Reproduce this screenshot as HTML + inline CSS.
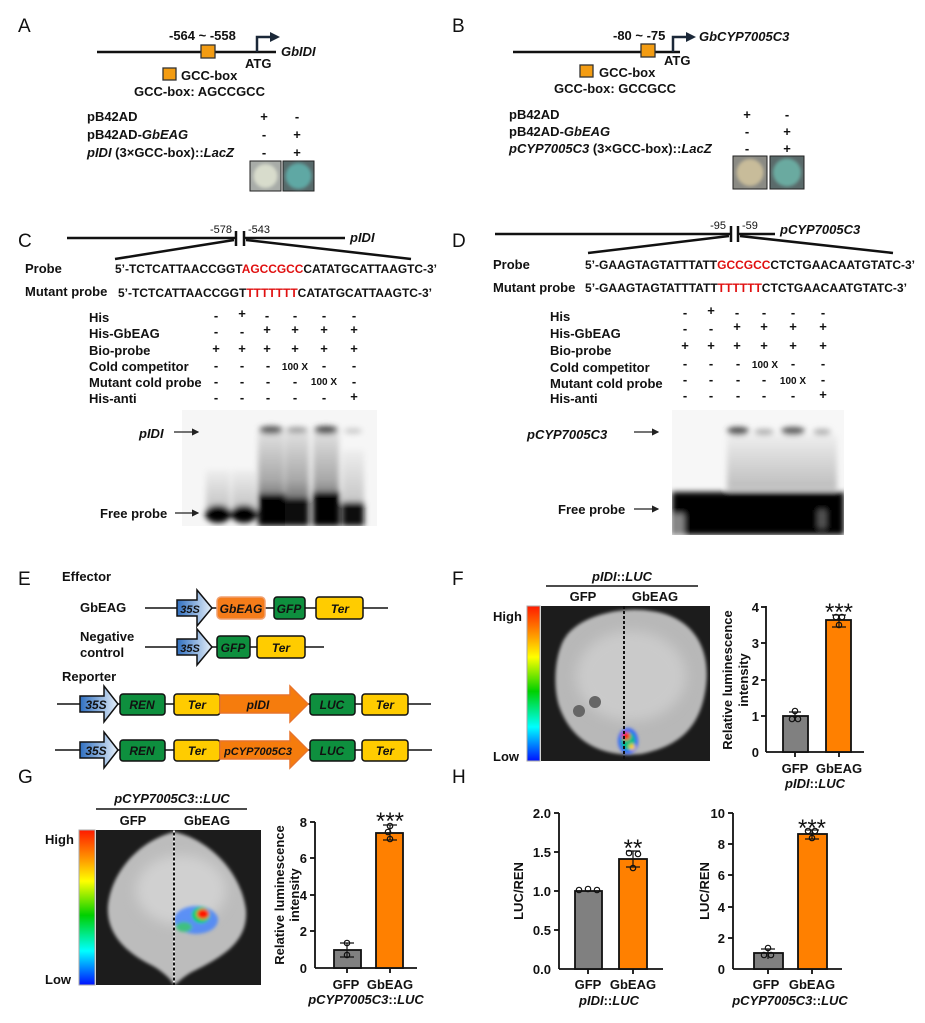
<!DOCTYPE html>
<html><head><meta charset="utf-8"><style>
html,body{margin:0;padding:0;background:#fff}
svg{display:block}
text{font-family:"Liberation Sans",Arial,sans-serif;fill:#111}
.b{font-weight:bold}
.i{font-style:italic}
.L{font-size:19px}
.t{font-size:13px;font-weight:bold}
.s{font-size:12px;font-weight:bold}
.st{font-size:24px}
</style></head><body>
<svg width="925" height="1023" viewBox="0 0 925 1023" xmlns="http://www.w3.org/2000/svg">
<defs>
<linearGradient id="blue" x1="0" x2="1"><stop offset="0" stop-color="#2f6fc0"/><stop offset="1" stop-color="#e6f0fa"/></linearGradient>
<linearGradient id="cbar" x1="0" y1="0" x2="0" y2="1">
<stop offset="0" stop-color="#ff1a00"/><stop offset="0.2" stop-color="#ffa000"/><stop offset="0.33" stop-color="#ffff00"/><stop offset="0.55" stop-color="#00d000"/><stop offset="0.78" stop-color="#00ffff"/><stop offset="1" stop-color="#0010ff"/></linearGradient>
<linearGradient id="smear" x1="0" y1="0" x2="0" y2="1"><stop offset="0" stop-color="#e0e0e0"/><stop offset="0.6" stop-color="#a8a8a8"/><stop offset="1" stop-color="#505050"/></linearGradient>
<linearGradient id="smear2" x1="0" y1="0" x2="0" y2="1"><stop offset="0" stop-color="#eeeeee"/><stop offset="1" stop-color="#bcbcbc"/></linearGradient>
<filter id="bl" x="-50%" y="-50%" width="200%" height="200%"><feGaussianBlur stdDeviation="3"/></filter>
<filter id="bl2" x="-50%" y="-50%" width="200%" height="200%"><feGaussianBlur stdDeviation="1.5"/></filter>
<filter id="bl6" x="-50%" y="-50%" width="200%" height="200%"><feGaussianBlur stdDeviation="6"/></filter>
<marker id="ah" markerWidth="6" markerHeight="6" refX="5" refY="3" orient="auto"><path d="M0,0 L6,3 L0,6 z" fill="#222"/></marker>
</defs>

<!-- ===== A ===== -->
<text x="18" y="32" class="L">A</text>
<line x1="97" y1="52" x2="276" y2="52" stroke="#111" stroke-width="2.5"/>
<rect x="201" y="45" width="14" height="13" fill="#f39c12" stroke="#333" stroke-width="1.3"/>
<path d="M257,52 V37 H272" fill="none" stroke="#1b2838" stroke-width="2.5"/>
<path d="M270,32 L280,37 L270,42 z" fill="#1b2838"/>
<text x="169" y="40" class="t">-564 ~ -558</text>
<text x="281" y="56" class="t i">GbIDI</text>
<text x="245" y="68" class="t">ATG</text>
<rect x="163" y="68" width="13" height="12" fill="#f39c12" stroke="#333" stroke-width="1.3"/>
<text x="181" y="80" class="t">GCC-box</text>
<text x="134" y="96" class="t">GCC-box:  AGCCGCC</text>
<text x="87" y="121" class="t">pB42AD</text>
<text x="87" y="139" class="t">pB42AD-<tspan class="i">GbEAG</tspan></text>
<text x="87" y="157" class="t"><tspan class="i">pIDI</tspan> (3×GCC-box)::<tspan class="i">LacZ</tspan></text>
<g class="t" text-anchor="middle"><text x="264" y="121">+</text><text x="297" y="121">-</text><text x="264" y="139">-</text><text x="297" y="139">+</text><text x="264" y="157">-</text><text x="297" y="157">+</text></g>
<rect x="250" y="161" width="31" height="30" fill="#a8aca8" stroke="#222"/>
<circle cx="265.5" cy="176" r="12" fill="#d8dccc" filter="url(#bl2)"/>
<rect x="283" y="161" width="31" height="30" fill="#57696a" stroke="#222"/>
<circle cx="298.5" cy="176" r="13" fill="#5fa8a4" filter="url(#bl2)"/>

<!-- ===== B ===== -->
<text x="452" y="32" class="L">B</text>
<line x1="513" y1="52" x2="680" y2="52" stroke="#111" stroke-width="2.5"/>
<rect x="641" y="44" width="14" height="13" fill="#f39c12" stroke="#333" stroke-width="1.3"/>
<path d="M673,52 V37 H688" fill="none" stroke="#1b2838" stroke-width="2.5"/>
<path d="M686,32 L696,37 L686,42 z" fill="#1b2838"/>
<text x="613" y="40" class="t">-80 ~ -75</text>
<text x="699" y="41" class="t i">GbCYP7005C3</text>
<text x="664" y="65" class="t">ATG</text>
<rect x="580" y="65" width="13" height="12" fill="#f39c12" stroke="#333" stroke-width="1.3"/>
<text x="599" y="77" class="t">GCC-box</text>
<text x="554" y="93" class="t">GCC-box: GCCGCC</text>
<text x="509" y="119" class="t">pB42AD</text>
<text x="509" y="136" class="t">pB42AD-<tspan class="i">GbEAG</tspan></text>
<text x="509" y="153" class="t"><tspan class="i">pCYP7005C3</tspan> (3×GCC-box)::<tspan class="i">LacZ</tspan></text>
<g class="t" text-anchor="middle"><text x="747" y="119">+</text><text x="787" y="119">-</text><text x="747" y="136">-</text><text x="787" y="136">+</text><text x="747" y="153">-</text><text x="787" y="153">+</text></g>
<rect x="733" y="156" width="34" height="33" fill="#8a8a84" stroke="#222"/>
<circle cx="750" cy="172.5" r="13.5" fill="#c8bc9a" filter="url(#bl2)"/>
<rect x="770" y="156" width="34" height="33" fill="#5a6a6a" stroke="#222"/>
<circle cx="787" cy="172.5" r="14" fill="#6aaaa0" filter="url(#bl2)"/>

<!-- ===== C ===== -->
<text x="18" y="247" class="L">C</text>
<line x1="67" y1="238" x2="235" y2="238" stroke="#111" stroke-width="2.5"/>
<line x1="245" y1="238" x2="345" y2="238" stroke="#111" stroke-width="2.5"/>
<line x1="236" y1="231" x2="236" y2="246" stroke="#111" stroke-width="2.5"/>
<line x1="244" y1="231" x2="244" y2="246" stroke="#111" stroke-width="2.5"/>
<line x1="234" y1="240" x2="115" y2="259" stroke="#111" stroke-width="2.5"/>
<line x1="246" y1="240" x2="411" y2="259" stroke="#111" stroke-width="2.5"/>
<text x="232" y="233" font-size="11" text-anchor="end">-578</text>
<text x="248" y="233" font-size="11">-543</text>
<text x="350" y="242" class="t i">pIDI</text>
<text x="25" y="273" class="t">Probe</text>
<text x="115" y="273" class="s" textLength="322" lengthAdjust="spacingAndGlyphs">5’-TCTCATTAACCGGT<tspan fill="#e01010">AGCCGCC</tspan>CATATGCATTAAGTC-3’</text>
<text x="25" y="296" class="t">Mutant probe</text>
<text x="118" y="297" class="s" textLength="314" lengthAdjust="spacingAndGlyphs">5’-TCTCATTAACCGGT<tspan fill="#e01010">TTTTTTT</tspan>CATATGCATTAAGTC-3’</text>
<g class="t">
<text x="89" y="322">His</text><text x="89" y="338">His-GbEAG</text><text x="89" y="355">Bio-probe</text>
<text x="89" y="371">Cold competitor</text><text x="89" y="387">Mutant cold probe</text><text x="89" y="403">His-anti</text>
</g>
<g class="t" text-anchor="middle">
<text x="216" y="320">-</text><text x="242" y="318">+</text><text x="267" y="320">-</text><text x="295" y="320">-</text><text x="324" y="320">-</text><text x="354" y="320">-</text>
<text x="216" y="336">-</text><text x="242" y="336">-</text><text x="267" y="334">+</text><text x="295" y="334">+</text><text x="324" y="334">+</text><text x="354" y="334">+</text>
<text x="216" y="353">+</text><text x="242" y="353">+</text><text x="267" y="353">+</text><text x="295" y="353">+</text><text x="324" y="353">+</text><text x="354" y="353">+</text>
<text x="216" y="370">-</text><text x="242" y="370">-</text><text x="268" y="370">-</text><text x="295" y="370" font-size="10">100 X</text><text x="324" y="370">-</text><text x="354" y="370">-</text>
<text x="216" y="386">-</text><text x="242" y="386">-</text><text x="268" y="386">-</text><text x="295" y="386">-</text><text x="324" y="385" font-size="10">100 X</text><text x="354" y="386">-</text>
<text x="216" y="402">-</text><text x="242" y="402">-</text><text x="268" y="402">-</text><text x="295" y="402">-</text><text x="324" y="402">-</text><text x="354" y="401">+</text>
</g>
<svg x="182" y="410" width="195" height="116" overflow="hidden">
<rect width="195" height="116" fill="#f6f6f6"/>
<g filter="url(#bl)">
<rect x="24" y="60" width="24" height="45" fill="url(#smear2)"/><rect x="50" y="60" width="24" height="45" fill="url(#smear2)"/>
<rect x="76" y="22" width="26" height="80" fill="url(#smear)"/><rect x="103" y="22" width="24" height="80" fill="url(#smear)"/>
<rect x="131" y="22" width="26" height="80" fill="url(#smear)"/><rect x="160" y="40" width="22" height="65" fill="url(#smear2)"/>
<ellipse cx="89" cy="20" rx="12" ry="4" fill="#555"/><ellipse cx="115" cy="20" rx="11" ry="3" fill="#999"/>
<ellipse cx="144" cy="20" rx="12" ry="4" fill="#444"/><ellipse cx="171" cy="21" rx="9" ry="2.5" fill="#c4c4c4"/>
<ellipse cx="36" cy="104" rx="13" ry="9" fill="#000"/><ellipse cx="62" cy="104" rx="13" ry="9" fill="#000"/>
<rect x="76" y="84" width="27" height="32" fill="#000"/><rect x="103" y="88" width="24" height="28" fill="#0a0a0a"/>
<rect x="131" y="82" width="27" height="34" fill="#000"/><rect x="160" y="92" width="22" height="24" fill="#111"/>
</g>
</svg>
<text x="139" y="438" class="t i">pIDI</text>
<line x1="174" y1="432" x2="198" y2="432" stroke="#222" stroke-width="1.2" marker-end="url(#ah)"/>
<text x="100" y="518" class="t">Free probe</text>
<line x1="175" y1="513" x2="198" y2="513" stroke="#222" stroke-width="1.2" marker-end="url(#ah)"/>

<!-- ===== D ===== -->
<text x="452" y="247" class="L">D</text>
<line x1="495" y1="234" x2="730" y2="234" stroke="#111" stroke-width="2.5"/>
<line x1="738" y1="234" x2="775" y2="234" stroke="#111" stroke-width="2.5"/>
<line x1="731" y1="226" x2="731" y2="242" stroke="#111" stroke-width="2.5"/>
<line x1="738" y1="226" x2="738" y2="242" stroke="#111" stroke-width="2.5"/>
<line x1="729" y1="236" x2="588" y2="253" stroke="#111" stroke-width="2.5"/>
<line x1="740" y1="236" x2="893" y2="253" stroke="#111" stroke-width="2.5"/>
<text x="726" y="229" font-size="11" text-anchor="end">-95</text>
<text x="742" y="229" font-size="11">-59</text>
<text x="780" y="234" class="t i">pCYP7005C3</text>
<text x="493" y="269" class="t">Probe</text>
<text x="585" y="269" class="s" textLength="330" lengthAdjust="spacingAndGlyphs">5’-GAAGTAGTATTTATT<tspan fill="#e01010">GCCGCC</tspan>CTCTGAACAATGTATC-3’</text>
<text x="493" y="292" class="t">Mutant probe</text>
<text x="585" y="292" class="s" textLength="322" lengthAdjust="spacingAndGlyphs">5’-GAAGTAGTATTTATT<tspan fill="#e01010">TTTTTT</tspan>CTCTGAACAATGTATC-3’</text>
<g class="t">
<text x="550" y="321">His</text><text x="550" y="338">His-GbEAG</text><text x="550" y="355">Bio-probe</text>
<text x="550" y="372">Cold competitor</text><text x="550" y="388">Mutant cold probe</text><text x="550" y="403">His-anti</text>
</g>
<g class="t" text-anchor="middle">
<text x="685" y="317">-</text><text x="711" y="315">+</text><text x="737" y="317">-</text><text x="764" y="317">-</text><text x="793" y="317">-</text><text x="823" y="317">-</text>
<text x="685" y="333">-</text><text x="711" y="333">-</text><text x="737" y="331">+</text><text x="764" y="331">+</text><text x="793" y="331">+</text><text x="823" y="331">+</text>
<text x="685" y="350">+</text><text x="711" y="350">+</text><text x="737" y="350">+</text><text x="764" y="350">+</text><text x="793" y="350">+</text><text x="823" y="350">+</text>
<text x="685" y="368">-</text><text x="711" y="368">-</text><text x="738" y="368">-</text><text x="765" y="368" font-size="10">100 X</text><text x="793" y="368">-</text><text x="823" y="368">-</text>
<text x="685" y="384">-</text><text x="711" y="384">-</text><text x="738" y="384">-</text><text x="764" y="384">-</text><text x="793" y="384" font-size="10">100 X</text><text x="823" y="384">-</text>
<text x="685" y="400">-</text><text x="711" y="400">-</text><text x="738" y="400">-</text><text x="764" y="400">-</text><text x="793" y="400">-</text><text x="823" y="399">+</text>
</g>
<svg x="672" y="410" width="172" height="125" overflow="hidden">
<rect width="172" height="125" fill="#f7f7f7"/>
<g filter="url(#bl)">
<rect x="55" y="25" width="110" height="55" fill="url(#smear2)"/>
<ellipse cx="66" cy="21" rx="11" ry="4" fill="#444"/><ellipse cx="92" cy="22" rx="10" ry="3" fill="#aaa"/>
<ellipse cx="121" cy="21" rx="12" ry="4" fill="#555"/><ellipse cx="150" cy="22" rx="9" ry="3" fill="#aaa"/>
<rect x="0" y="82" width="172" height="43" fill="#000"/>
<rect x="2" y="104" width="10" height="21" fill="#888"/>
<rect x="146" y="100" width="8" height="18" fill="#555"/>
</g>
</svg>
<text x="527" y="439" class="t i">pCYP7005C3</text>
<line x1="634" y1="432" x2="658" y2="432" stroke="#222" stroke-width="1.2" marker-end="url(#ah)"/>
<text x="558" y="514" class="t">Free probe</text>
<line x1="634" y1="509" x2="658" y2="509" stroke="#222" stroke-width="1.2" marker-end="url(#ah)"/>

<!-- ===== E ===== -->
<text x="18" y="585" class="L">E</text>
<text x="62" y="581" class="t">Effector</text>
<text x="80" y="612" class="t">GbEAG</text>
<text x="80" y="641" class="t">Negative</text>
<text x="80" y="657" class="t">control</text>
<text x="62" y="681" class="t">Reporter</text>
<g stroke="#111" stroke-width="1.5">
<line x1="145" y1="608" x2="388" y2="608"/>
<line x1="145" y1="647" x2="324" y2="647"/>
<line x1="57" y1="704" x2="431" y2="704"/>
<line x1="55" y1="750" x2="432" y2="750"/>
</g>
<g stroke="#111" stroke-width="1.5">
<path d="M177,600 H197 V590 L212,608 L197,626 V616 H177 Z" fill="url(#blue)"/>
<path d="M177,639 H197 V629 L212,647 L197,665 V655 H177 Z" fill="url(#blue)"/>
<path d="M80,696 H104 V686 L118,704 L104,722 V712 H80 Z" fill="url(#blue)"/>
<path d="M80,742 H104 V732 L118,750 L104,768 V758 H80 Z" fill="url(#blue)"/>
<rect x="217" y="597" width="48" height="22" rx="4" fill="#f57c1a" stroke="#f0a070"/>
<rect x="274" y="597" width="31" height="22" rx="3" fill="#0e8f3e"/>
<rect x="316" y="597" width="47" height="22" rx="3" fill="#ffcc00"/>
<rect x="217" y="636" width="33" height="22" rx="3" fill="#0e8f3e"/>
<rect x="257" y="636" width="48" height="22" rx="3" fill="#ffcc00"/>
<rect x="120" y="694" width="45" height="21" rx="3" fill="#0e8f3e"/>
<rect x="174" y="694" width="46" height="21" rx="3" fill="#ffcc00"/>
<path d="M220,695 H290 V686 L308,704 L290,722 V713 H220 Z" fill="#f57c0d" stroke="#e8742a"/>
<rect x="310" y="694" width="45" height="21" rx="3" fill="#0e8f3e"/>
<rect x="362" y="694" width="46" height="21" rx="3" fill="#ffcc00"/>
<rect x="120" y="740" width="45" height="21" rx="3" fill="#0e8f3e"/>
<rect x="174" y="740" width="46" height="21" rx="3" fill="#ffcc00"/>
<path d="M220,741 H290 V732 L308,750 L290,768 V759 H220 Z" fill="#f57c0d" stroke="#e8742a"/>
<rect x="310" y="740" width="45" height="21" rx="3" fill="#0e8f3e"/>
<rect x="362" y="740" width="46" height="21" rx="3" fill="#ffcc00"/>
</g>
<g class="i b" font-size="12" text-anchor="middle">
<text x="190" y="613" font-size="11">35S</text><text x="241" y="613">GbEAG</text><text x="289" y="613">GFP</text><text x="340" y="613">Ter</text>
<text x="190" y="652" font-size="11">35S</text><text x="233" y="652">GFP</text><text x="281" y="652">Ter</text>
<text x="96" y="709">35S</text><text x="142" y="709">REN</text><text x="197" y="709">Ter</text><text x="258" y="709">pIDI</text><text x="332" y="709">LUC</text><text x="385" y="709">Ter</text>
<text x="96" y="755">35S</text><text x="142" y="755">REN</text><text x="197" y="755">Ter</text><text x="258" y="755" font-size="11">pCYP7005C3</text><text x="332" y="755">LUC</text><text x="385" y="755">Ter</text>
</g>

<!-- ===== F ===== -->
<text x="452" y="585" class="L">F</text>
<text x="622" y="581" class="t i" text-anchor="middle">pIDI<tspan font-style="normal">::</tspan>LUC</text>
<line x1="546" y1="586" x2="698" y2="586" stroke="#111" stroke-width="1.5"/>
<text x="583" y="601" class="t" text-anchor="middle">GFP</text>
<text x="655" y="601" class="t" text-anchor="middle">GbEAG</text>
<rect x="527" y="606" width="13" height="155" fill="url(#cbar)" stroke="#aaa"/>
<text x="493" y="621" class="t">High</text>
<text x="493" y="761" class="t">Low</text>
<svg x="541" y="606" width="169" height="155" overflow="hidden">
<rect width="169" height="155" fill="#1c1c1c"/>
<path d="M20,40 C30,10 80,0 110,5 C150,10 170,40 165,80 C160,120 140,140 100,148 C60,152 30,135 18,100 C12,80 14,55 20,40 Z" fill="#b8b8b8" filter="url(#bl2)"/>
<ellipse cx="90" cy="70" rx="55" ry="45" fill="#cacaca" filter="url(#bl6)"/>
<circle cx="38" cy="105" r="6" fill="#666"/><circle cx="54" cy="96" r="6" fill="#666"/>
<g filter="url(#bl2)">
<ellipse cx="87" cy="135" rx="10" ry="13" fill="#3060ff"/><ellipse cx="87" cy="135" rx="7" ry="9" fill="#00c080"/><ellipse cx="85" cy="130" rx="4" ry="4" fill="#ff2000"/><ellipse cx="91" cy="141" rx="3" ry="3" fill="#ffd000"/>
</g>
<line x1="83" y1="0" x2="83" y2="155" stroke="#111" stroke-width="2" stroke-dasharray="3,2"/>
</svg>
<g stroke="#111" stroke-width="1.8">
<line x1="766" y1="606" x2="766" y2="752"/><line x1="766" y1="752" x2="864" y2="752"/>
<line x1="761" y1="607" x2="766" y2="607"/><line x1="761" y1="643" x2="766" y2="643"/><line x1="761" y1="680" x2="766" y2="680"/><line x1="761" y1="716" x2="766" y2="716"/>
<line x1="795" y1="752" x2="795" y2="757"/><line x1="839" y1="752" x2="839" y2="757"/>
<rect x="783" y="716" width="25" height="36" fill="#808080"/>
<rect x="826" y="620" width="25" height="132" fill="#ff8000"/>
<path d="M795,712 V721 M789,712 H801" fill="none" stroke-width="1.2"/>
<path d="M839,615 V627 M832,615 H846 M832,627 H846" fill="none" stroke-width="1.2"/>
</g>
<g fill="none" stroke="#111" stroke-width="1.2"><circle cx="795" cy="711" r="2.7"/><circle cx="792" cy="719" r="2.7"/><circle cx="798" cy="719" r="2.7"/><circle cx="836" cy="617" r="2.7"/><circle cx="842" cy="617" r="2.7"/><circle cx="839" cy="625" r="2.7"/></g>
<g class="t" text-anchor="end"><text x="759" y="757">0</text><text x="759" y="721">1</text><text x="759" y="685">2</text><text x="759" y="648">3</text><text x="759" y="612">4</text></g>
<text x="839" y="620" class="st" text-anchor="middle">***</text>
<text transform="translate(732,680) rotate(-90)" class="t" text-anchor="middle">Relative luminescence</text>
<text transform="translate(748,680) rotate(-90)" class="t" text-anchor="middle">intensity</text>
<text x="795" y="773" class="t" text-anchor="middle">GFP</text><text x="839" y="773" class="t" text-anchor="middle">GbEAG</text>
<text x="815" y="788" class="t i" text-anchor="middle">pIDI<tspan font-style="normal">::</tspan>LUC</text>

<!-- ===== G ===== -->
<text x="18" y="783" class="L">G</text>
<text x="172" y="803" class="t i" text-anchor="middle">pCYP7005C3<tspan font-style="normal">::</tspan>LUC</text>
<line x1="96" y1="809" x2="247" y2="809" stroke="#111" stroke-width="1.5"/>
<text x="133" y="825" class="t" text-anchor="middle">GFP</text>
<text x="207" y="825" class="t" text-anchor="middle">GbEAG</text>
<rect x="79" y="830" width="16" height="155" fill="url(#cbar)" stroke="#aaa"/>
<text x="45" y="844" class="t">High</text>
<text x="45" y="984" class="t">Low</text>
<svg x="96" y="830" width="165" height="155" overflow="hidden">
<rect width="165" height="155" fill="#1c1c1c"/>
<path d="M78,2 C110,8 145,40 150,80 C152,110 130,125 100,140 C88,145 80,155 78,155 C76,150 65,140 55,135 C25,120 10,100 12,75 C16,40 45,10 78,2 Z" fill="#bcbcbc" filter="url(#bl2)"/>
<ellipse cx="85" cy="60" rx="45" ry="35" fill="#d0d0d0" filter="url(#bl6)"/>
<g filter="url(#bl2)">
<ellipse cx="100" cy="90" rx="22" ry="14" fill="#4080ff" opacity="0.8"/><ellipse cx="105" cy="85" rx="9" ry="8" fill="#00d060"/><ellipse cx="107" cy="84" rx="6" ry="5" fill="#ff1800"/><ellipse cx="88" cy="97" rx="8" ry="5" fill="#40c080"/>
</g>
<line x1="78" y1="0" x2="78" y2="155" stroke="#eee" stroke-width="2" stroke-dasharray="3,2"/>
<line x1="78" y1="0" x2="78" y2="155" stroke="#111" stroke-width="2" stroke-dasharray="3,2" stroke-dashoffset="2.5"/>
</svg>
<g stroke="#111" stroke-width="1.8">
<line x1="315" y1="822" x2="315" y2="968"/><line x1="315" y1="968" x2="417" y2="968"/>
<line x1="310" y1="822" x2="315" y2="822"/><line x1="310" y1="858" x2="315" y2="858"/><line x1="310" y1="895" x2="315" y2="895"/><line x1="310" y1="931" x2="315" y2="931"/>
<line x1="347" y1="968" x2="347" y2="973"/><line x1="390" y1="968" x2="390" y2="973"/>
<rect x="334" y="950" width="27" height="18" fill="#808080"/>
<rect x="376" y="833" width="27" height="135" fill="#ff8000"/>
<path d="M347,943 V957 M340,943 H354 M340,957 H354" fill="none" stroke-width="1.2"/>
<path d="M390,825 V840 M383,825 H397 M383,840 H397" fill="none" stroke-width="1.2"/>
</g>
<g fill="none" stroke="#111" stroke-width="1.2"><circle cx="347" cy="943" r="2.7"/><circle cx="347" cy="955" r="2.7"/><circle cx="390" cy="826" r="2.7"/><circle cx="390" cy="839" r="2.7"/><circle cx="388" cy="832" r="2.7"/></g>
<g class="t" text-anchor="end"><text x="307" y="973">0</text><text x="307" y="936">2</text><text x="307" y="900">4</text><text x="307" y="863">6</text><text x="307" y="827">8</text></g>
<text x="390" y="829" class="st" text-anchor="middle">***</text>
<text transform="translate(284,895) rotate(-90)" class="t" text-anchor="middle">Relative luminescence</text>
<text transform="translate(299,895) rotate(-90)" class="t" text-anchor="middle">intensity</text>
<text x="346" y="989" class="t" text-anchor="middle">GFP</text><text x="390" y="989" class="t" text-anchor="middle">GbEAG</text>
<text x="366" y="1004" class="t i" text-anchor="middle">pCYP7005C3<tspan font-style="normal">::</tspan>LUC</text>

<!-- ===== H ===== -->
<text x="452" y="783" class="L">H</text>
<g stroke="#111" stroke-width="1.8">
<line x1="559" y1="813" x2="559" y2="969"/><line x1="559" y1="969" x2="663" y2="969"/>
<line x1="554" y1="813" x2="559" y2="813"/><line x1="554" y1="852" x2="559" y2="852"/><line x1="554" y1="891" x2="559" y2="891"/><line x1="554" y1="930" x2="559" y2="930"/>
<line x1="588" y1="969" x2="588" y2="974"/><line x1="633" y1="969" x2="633" y2="974"/>
<rect x="575" y="891" width="27" height="78" fill="#808080"/>
<rect x="619" y="859" width="28" height="110" fill="#ff8000"/>
<path d="M633,851 V867 M626,851 H640 M626,867 H640" fill="none" stroke-width="1.2"/>
</g>
<g fill="none" stroke="#111" stroke-width="1.2"><circle cx="579" cy="890" r="2.7"/><circle cx="588" cy="889" r="2.7"/><circle cx="597" cy="890" r="2.7"/><circle cx="629" cy="853" r="2.7"/><circle cx="638" cy="854" r="2.7"/><circle cx="633" cy="868" r="2.7"/></g>
<g class="t" text-anchor="end"><text x="551" y="974">0.0</text><text x="551" y="935">0.5</text><text x="551" y="896">1.0</text><text x="551" y="857">1.5</text><text x="551" y="818">2.0</text></g>
<text x="633" y="856" class="st" text-anchor="middle">**</text>
<text transform="translate(523,891) rotate(-90)" class="t" text-anchor="middle">LUC/REN</text>
<text x="588" y="989" class="t" text-anchor="middle">GFP</text><text x="633" y="989" class="t" text-anchor="middle">GbEAG</text>
<text x="609" y="1005" class="t i" text-anchor="middle">pIDI<tspan font-style="normal">::</tspan>LUC</text>
<g stroke="#111" stroke-width="1.8">
<line x1="733" y1="813" x2="733" y2="969"/><line x1="733" y1="969" x2="842" y2="969"/>
<line x1="728" y1="813" x2="733" y2="813"/><line x1="728" y1="844" x2="733" y2="844"/><line x1="728" y1="875" x2="733" y2="875"/><line x1="728" y1="907" x2="733" y2="907"/><line x1="728" y1="938" x2="733" y2="938"/>
<line x1="768" y1="969" x2="768" y2="974"/><line x1="812" y1="969" x2="812" y2="974"/>
<rect x="754" y="953" width="29" height="16" fill="#808080"/>
<rect x="798" y="834" width="29" height="135" fill="#ff8000"/>
<path d="M768,949 V959 M761,949 H775" fill="none" stroke-width="1.2"/>
<path d="M812,830 V839 M805,830 H819 M805,839 H819" fill="none" stroke-width="1.2"/>
</g>
<g fill="none" stroke="#111" stroke-width="1.2"><circle cx="768" cy="948" r="2.7"/><circle cx="764" cy="955" r="2.7"/><circle cx="771" cy="955" r="2.7"/><circle cx="808" cy="831" r="2.7"/><circle cx="815" cy="831" r="2.7"/><circle cx="812" cy="838" r="2.7"/></g>
<g class="t" text-anchor="end"><text x="725" y="974">0</text><text x="725" y="943">2</text><text x="725" y="912">4</text><text x="725" y="880">6</text><text x="725" y="849">8</text><text x="725" y="818">10</text></g>
<text x="812" y="836" class="st" text-anchor="middle">***</text>
<text transform="translate(709,891) rotate(-90)" class="t" text-anchor="middle">LUC/REN</text>
<text x="766" y="989" class="t" text-anchor="middle">GFP</text><text x="812" y="989" class="t" text-anchor="middle">GbEAG</text>
<text x="790" y="1005" class="t i" text-anchor="middle">pCYP7005C3<tspan font-style="normal">::</tspan>LUC</text>
</svg>
</body></html>
